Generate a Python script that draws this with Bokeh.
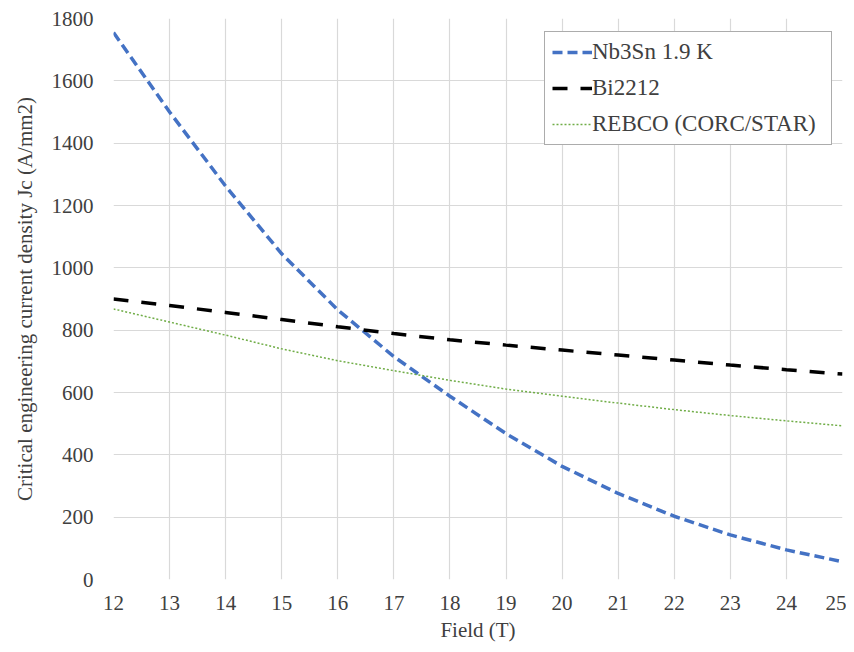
from bokeh.plotting import figure
from bokeh.models import Range1d, FixedTicker, Legend, LegendItem, ColumnDataSource
from bokeh.embed import file_html
from bokeh.resources import INLINE

field = [12, 13, 14, 15, 16, 17, 18, 19, 20, 21, 22, 23, 24, 25]
nb3sn = [1755, 1500, 1262, 1045, 865, 715, 588, 468, 363, 276, 203, 143, 95, 57]
bi2212 = [900, 879, 857, 834, 811, 789, 769, 752, 736, 720, 704, 688, 673, 659]
rebco = [868, 826, 784, 740, 702, 670, 639, 611, 588, 566, 545, 526, 509, 493]

x_ticks = list(range(12, 26))
y_ticks = list(range(0, 1801, 200))

FONT = "Liberation Serif, Times New Roman, DejaVu Serif, serif"
TXT = "#404040"

p = figure(width=846, height=644, output_backend="svg", toolbar_location=None,
           x_range=Range1d(12, 25), y_range=Range1d(0, 1800),
           min_border_left=113, min_border_right=4, min_border_top=18, min_border_bottom=62)
p.outline_line_color = None
p.background_fill_color = "white"

src = ColumnDataSource(dict(x=field, nb=nb3sn, bi=bi2212, re=rebco))
r1 = p.line("x", "nb", source=src, line_color="#4472C4", line_width=3.5, line_dash="10 5")
r2 = p.line("x", "bi", source=src, line_color="black", line_width=3.5, line_dash="15 13")
r3 = p.line("x", "re", source=src, line_color="#70AD47", line_width=1.5, line_dash="2 2")

p.xaxis.ticker = FixedTicker(ticks=x_ticks)
p.yaxis.ticker = FixedTicker(ticks=y_ticks)
p.xgrid.grid_line_color = "#D9D9D9"
p.ygrid.grid_line_color = "#D9D9D9"
p.xgrid.grid_line_width = 1.2
p.ygrid.grid_line_width = 1.2

for ax in (p.xaxis, p.yaxis):
    ax.axis_line_color = None
    ax.major_tick_line_color = None
    ax.minor_tick_line_color = None
    ax.major_tick_out = 0
    ax.major_tick_in = 0
    ax.major_label_text_font = FONT
    ax.major_label_text_font_size = "21px"
    ax.major_label_text_color = TXT
    ax.axis_label_text_font = FONT
    ax.axis_label_text_font_size = "21px"
    ax.axis_label_text_font_style = "normal"
    ax.axis_label_text_color = TXT

p.xaxis.axis_label = "Field (T)"
p.yaxis.axis_label = "Critical engineering current density Jc (A/mm2)"
p.yaxis.major_label_standoff = 20
p.xaxis.major_label_standoff = 16
p.yaxis.axis_label_standoff = 12
p.xaxis.axis_label_standoff = 5

legend = Legend(items=[LegendItem(label="Nb3Sn 1.9 K", renderers=[r1]),
                       LegendItem(label="Bi2212", renderers=[r2]),
                       LegendItem(label="REBCO (CORC/STAR)", renderers=[r3])],
                location=(431, 434))
legend.label_text_font = FONT
legend.label_text_font_size = "23px"
legend.label_text_color = TXT
legend.border_line_color = "#595959"
legend.border_line_width = 1.5
legend.background_fill_alpha = 1
legend.glyph_width = 40
legend.glyph_height = 24
legend.label_height = 24
legend.label_width = 232
legend.label_standoff = 0
legend.padding = 7
legend.spacing = 10
legend.margin = 0
p.add_layout(legend, "center")

open("out.html", "w").write(file_html(p, INLINE))
